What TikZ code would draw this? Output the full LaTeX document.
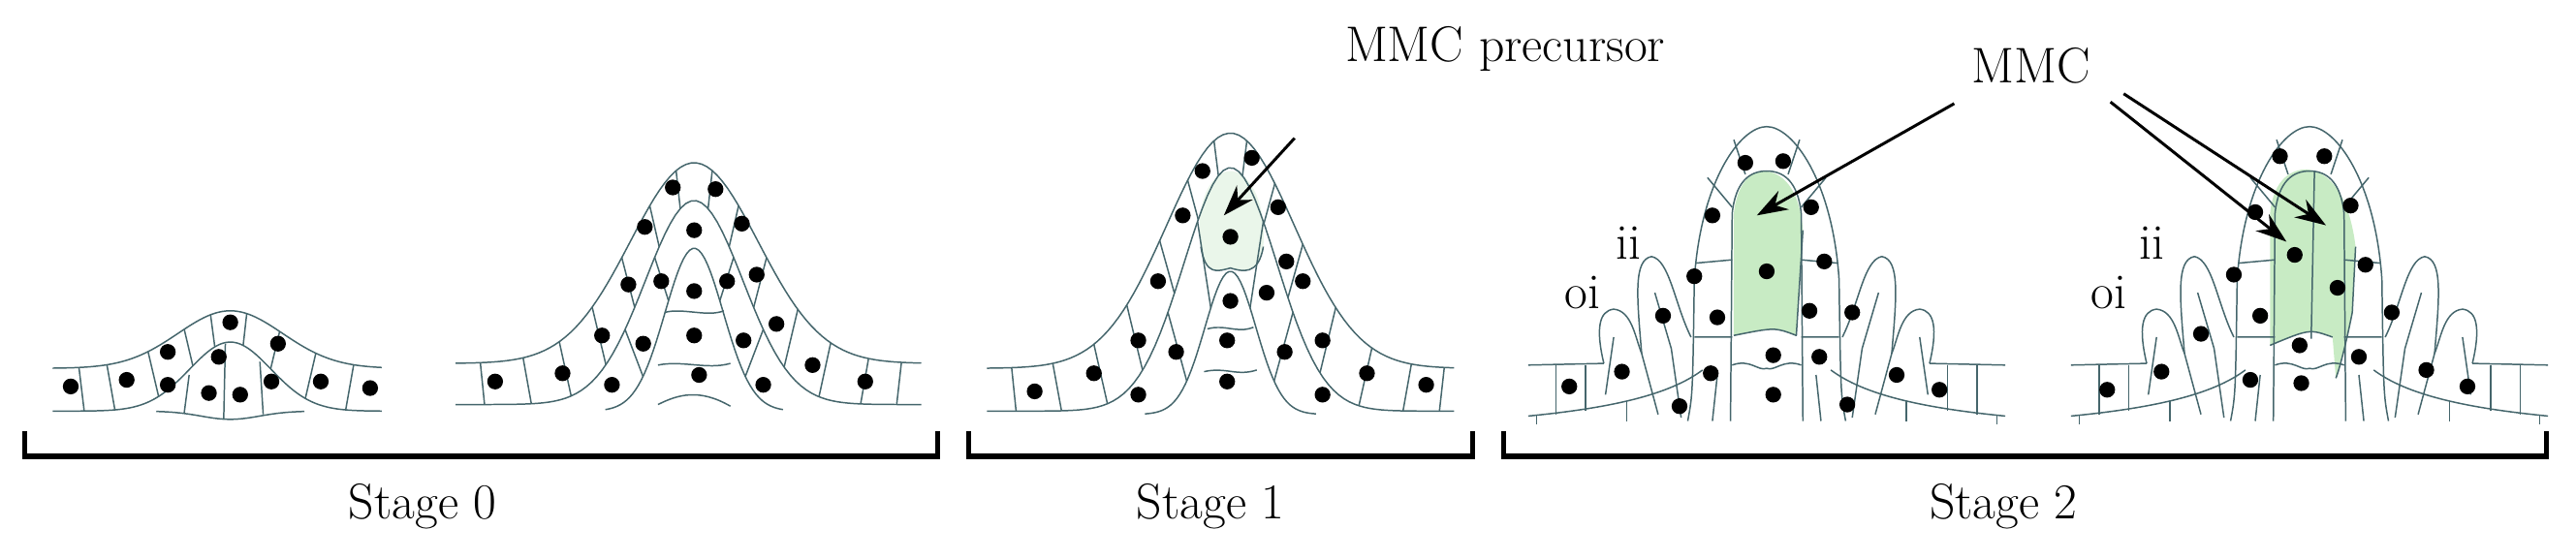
\documentclass[tikz,border=0pt]{standalone}
\usetikzlibrary{arrows.meta}
\definecolor{wall}{HTML}{45666C}
\definecolor{pale}{HTML}{EAF6EA}
\definecolor{mmc}{HTML}{C8EBC4}
\tikzset{cw/.style={draw=wall,line width=0.75pt,line join=round},
 nuc/.style={fill=black},
 arr/.style={line width=1.5pt,-{Stealth[length=16pt,width=11pt]}},
 brk/.style={line width=2.6pt},
 lbl/.style={font=\fontsize{26}{30}\selectfont,inner sep=0pt}}
\newcommand\setL[7]{\def\lC{#1}\def\lWo{#2}\def\lBo{#3}\def\lPo{#4}\def\lWi{#5}\def\lBi{#6}\def\lPi{#7}}
\newcommand\Lcurves[2]{\draw[cw] plot[domain=#1:#2,samples=90] (\x,{\lBo-(\lBo-\lPo)*exp(-((\x-\lC)/\lWo)^2)});
 \draw[cw] plot[domain=#1:#2,samples=90] (\x,{\lBi-(\lBi-\lPi)*exp(-((\x-\lC)/\lWi)^2)});}
\newcommand\Linner[2]{\draw[cw] plot[domain=#1:#2,samples=60] (\x,{\lBi-(\lBi-\lPi)*exp(-((\x-\lC)/\lWi)^2)});}
\newcommand\Lwalls[1]{\foreach \xx in {#1}{%
 \pgfmathsetmacro\xin{\xx-(\xx-\lC)*(1-\lWi/\lWo)*exp(-((\xx-\lC)/(1.5*\lWo))^2)}%
 \pgfmathsetmacro\yo{\lBo-(\lBo-\lPo)*exp(-((\xx-\lC)/\lWo)^2)}%
 \pgfmathsetmacro\yi{\lBi-(\lBi-\lPi)*exp(-((\xin-\lC)/\lWi)^2)}%
 \draw[cw] (\xx,\yo)--(\xin,\yi);}}
\newcommand\ovside{%
 \draw[cw] (-145,222)--(-99,221);
 \draw[cw] (-145,253) .. controls (-94,248) and (-59,240) .. (-39,225);
 \draw[cw] (-128,222)--(-128,252) (-110,222)--(-110,250) (-85,244)--(-85,256) (-140,252)--(-140,258);
 \draw[cw] (-99,221) .. controls (-104,200) and (-102,189) .. (-93,188) .. controls (-82,189) and (-80,205) .. (-76,215);
 \draw[cw] (-76,215) -- (-66,252) (-93,205)--(-98,240);
 \draw[cw] (-76,215) .. controls (-79,180) and (-81,158) .. (-70,156) .. controls (-59,158) and (-56,185) .. (-46,205);
 \draw[cw] (-68,178)--(-58,212) (-58,212)--(-52,254);
 \draw[cw] (-48,256) .. controls (-45,240) .. (-44,170) .. controls (-40,110) and (-16,77) .. (0,77);
 \draw[cw] (-22,256) -- (-21,130) .. controls (-19,110) and (-10,104) .. (0,104);
 \draw[cw] (-20,85)--(-13,106) (-36,108)--(-21,126) (-43,160)--(-21,158) (-44,205)--(-21,205) (-30,228)--(-33,256);
 \draw[cw] (-21,222) .. controls (-10,218) and (-5,226) .. (0,224);}
\begin{document}
\begin{tikzpicture}[x=0.3mm,y=-0.3mm]
\useasboundingbox (0,0) rectangle (1566,340);
% ---------- Stage 0, small bump
\setL{140}{45}{224}{189}{35}{250}{208}
\Lcurves{32}{232}
\Lwalls{48,65,90,112,128,150,170,192,215}
\draw[cw] plot[domain=95:185,samples=40] (\x,{250+5*exp(-((\x-140)/25)^2)});
\draw[cw] (115,228)--(112,251) (137,209)--(136,255) (158,220)--(160,252);
\foreach \a/\b in {43/235,77/231,102/214,140/196,169/209,195/232,225/236,133/217,102/234,127/239,146/240,165/232}
 \fill[nuc] (\a,\b) circle[radius=4.8];
% ---------- Stage 0, dome
\setL{422}{55}{221}{99}{42}{246}{122}
\Lcurves{277}{560}
\Lwalls{292,318,340,360,378,395,411,433,449,466,485,505,528,548}
\setL{422}{42}{246}{122}{25}{250}{151}
\Linner{368}{476}
\Lwalls{380,398,446,464}
\draw[cw] (404,190) .. controls (415,187) and (430,193) .. (440,189);
\draw[cw] (400,222) .. controls (415,219) and (430,225) .. (444,221);
\draw[cw] (400,246) .. controls (412,240) and (425,236) .. (444,247);
\foreach \a/\b in {409/114,435/115,392/138,422/140,451/136,382/173,402/171,422/177,442/171,460/167,472/197,366/204,391/209,422/204,452/207,494/222,526/232,342/227,301/232,372/234,425/228,464/234}
 \fill[nuc] (\a,\b) circle[radius=4.8];
% ---------- Stage 1
\fill[pale] (730,150) .. controls (726,120) and (738,104) .. (748,104) .. controls (758,104) and (770,120) .. (768,150) .. controls (765,168) and (755,165) .. (748,163) .. controls (740,165) and (733,168) .. (730,150);
\setL{748}{55}{224}{81}{40}{250}{102}
\Lcurves{600}{884}
\Lwalls{615,640,665,685,705,722,738,758,775,792,812,834,858,878}
\setL{748}{40}{250}{102}{22}{252}{165}
\Linner{696}{800}
\Lwalls{710,728,768,786}
\draw[cw] (730,150) .. controls (733,168) and (740,165) .. (748,163) .. controls (755,165) and (765,168) .. (768,150);
\draw[cw] (734,200) .. controls (745,197) and (752,203) .. (762,199);
\draw[cw] (732,226) .. controls (745,223) and (752,229) .. (764,225);
\foreach \a/\b in {761/96,731/104,719/131,777/126,748/144,704/171,792/171,748/183,770/178,782/159,692/207,715/214,746/207,781/214,804/207,665/227,629/238,692/240,746/232,831/227,867/234,804/240}
 \fill[nuc] (\a,\b) circle[radius=4.8];
% ---------- Stage 2, ovule 1
\begin{scope}[shift={(1074,0)}]
 \fill[mmc] (-20,204) -- (-20,130) .. controls (-18,110) and (-8,104) .. (-3,104) .. controls (10,104) and (20,115) .. (22,140) -- (18,204) .. controls (5,199) .. (-20,204) -- cycle;
 \draw[cw] (-20,204) .. controls (5,199) .. (18,204) -- (22,140);
 \ovside
\end{scope}
\begin{scope}[shift={(1074,0)},xscale=-1]\ovside\end{scope}
\foreach \a/\b in {1061/99,1084/98,1041/131,1101/126,1074/165,1109/159,1030/168,1011/192,1044/193,1100/189,1126/190,986/226,954/235,1040/227,1078/216,1106/217,1078/240,1021/247,1123/246,1153/228,1179/237}
 \fill[nuc] (\a,\b) circle[radius=4.8];
% ---------- Stage 2, ovule 2
\begin{scope}[shift={(1404,0)}]
 \fill[mmc] (-24,210) -- (-24,130) .. controls (-22,108) and (-10,103) .. (-2,103) .. controls (12,104) and (24,118) .. (28,150) -- (26,190) .. controls (22,210) and (18,225) .. (16,230) -- (14,205) .. controls (0,200) .. (-24,210) -- cycle;
 \draw[cw] (-24,210) .. controls (0,200) .. (14,205) (16,230) .. controls (18,225) and (22,210) .. (26,190) -- (28,150);
 \draw[cw] (3,104) -- (1,206);
 \ovside
\end{scope}
\begin{scope}[shift={(1404,0)},xscale=-1]\ovside\end{scope}
\foreach \a/\b in {1386/95,1413/95,1371/129,1429/125,1395/155,1438/161,1358/167,1421/175,1374/192,1454/190,1338/203,1398/210,1314/226,1281/237,1368/231,1399/233,1434/217,1475/225,1500/235}
 \fill[nuc] (\a,\b) circle[radius=4.8];
% ---------- labels and arrows
\node[lbl] (mp) at (915,30) {MMC precursor};
\node[lbl] (mmc) at (1235,40) {MMC};
\node[lbl] (oi1) at (962,178) {oi};
\node[lbl] (ii1) at (990,148) {ii};
\node[lbl] (oi2) at (1282,178) {oi};
\node[lbl] (ii2) at (1308,148) {ii};
\coordinate (mps) at (787,84); \coordinate (mpe) at (744,131);
\coordinate (m1s) at (1188,63); \coordinate (m1e) at (1068,131);
\coordinate (m2s) at (1283,62); \coordinate (m2e) at (1390,147);
\coordinate (m3s) at (1291,57); \coordinate (m3e) at (1414,137);
\draw[arr] (mps) -- (mpe);
\draw[arr] (m1s) -- (m1e);
\draw[arr] (m2s) -- (m2e);
\draw[arr] (m3s) -- (m3e);
\draw[brk] (15,262)--(15,277.5)--(570,277.5)--(570,262);
\draw[brk] (589,262)--(589,277.5)--(895,277.5)--(895,262);
\draw[brk] (914,262)--(914,277.5)--(1548,277.5)--(1548,262);
\node[lbl] (s0) at (257,308) {Stage 0};
\node[lbl] (s1) at (736,308) {Stage 1};
\node[lbl] (s2) at (1218,308) {Stage 2};
\end{tikzpicture}
\end{document}
